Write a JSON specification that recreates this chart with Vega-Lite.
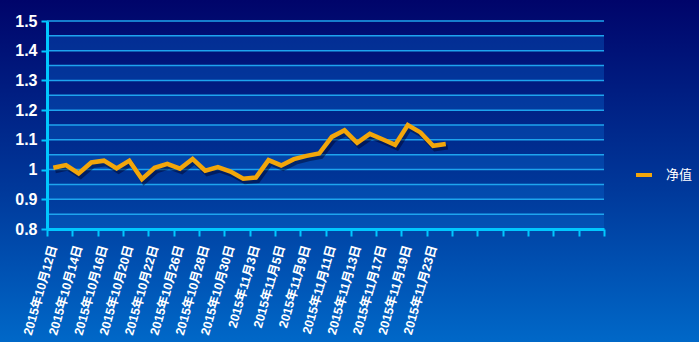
{
  "$schema": "https://vega.github.io/schema/vega-lite/v6.json",
  "autosize": {"type": "none"},
  "padding": {"left": 47, "top": 21, "right": 95, "bottom": 113},
  "width": 557,
  "height": 208,
  "background": "#003a98",
  "config": {
    "view": {"stroke": null},
    "axisY": {
      "format": "~g",
      "grid": false,
      "title": null,
      "labelOverlap": false,
      "domainColor": "#00c8ff",
      "domainWidth": 3,
      "tickColor": "#00c8ff",
      "tickWidth": 2,
      "tickSize": 6,
      "labelPadding": 4,
      "labelColor": "#ffffff",
      "labelFont": "Liberation Sans",
      "labelFontWeight": "bold",
      "labelFontSize": 16
    }
  },
  "datasets": {
    "nav": [
      {"date": "2015年10月12日", "value": 1.006},
      {"date": "2015年10月13日", "value": 1.015},
      {"date": "2015年10月14日", "value": 0.987},
      {"date": "2015年10月15日", "value": 1.024},
      {"date": "2015年10月16日", "value": 1.030},
      {"date": "2015年10月19日", "value": 1.004},
      {"date": "2015年10月20日", "value": 1.030},
      {"date": "2015年10月21日", "value": 0.968},
      {"date": "2015年10月22日", "value": 1.006},
      {"date": "2015年10月23日", "value": 1.019},
      {"date": "2015年10月26日", "value": 1.003},
      {"date": "2015年10月27日", "value": 1.036},
      {"date": "2015年10月28日", "value": 0.996},
      {"date": "2015年10月29日", "value": 1.008},
      {"date": "2015年10月30日", "value": 0.993},
      {"date": "2015年11月2日", "value": 0.969},
      {"date": "2015年11月3日", "value": 0.973},
      {"date": "2015年11月4日", "value": 1.032},
      {"date": "2015年11月5日", "value": 1.014},
      {"date": "2015年11月6日", "value": 1.035},
      {"date": "2015年11月9日", "value": 1.046},
      {"date": "2015年11月10日", "value": 1.054},
      {"date": "2015年11月11日", "value": 1.110},
      {"date": "2015年11月12日", "value": 1.132},
      {"date": "2015年11月13日", "value": 1.090},
      {"date": "2015年11月16日", "value": 1.120},
      {"date": "2015年11月17日", "value": 1.102},
      {"date": "2015年11月18日", "value": 1.083},
      {"date": "2015年11月19日", "value": 1.150},
      {"date": "2015年11月20日", "value": 1.125},
      {"date": "2015年11月23日", "value": 1.080},
      {"date": "2015年11月24日", "value": 1.086}
    ],
    "bands": [
      {"lo": 0.80, "hi": 0.85},
      {"lo": 0.90, "hi": 0.95},
      {"lo": 1.00, "hi": 1.05},
      {"lo": 1.10, "hi": 1.15},
      {"lo": 1.20, "hi": 1.25},
      {"lo": 1.30, "hi": 1.35},
      {"lo": 1.40, "hi": 1.45}
    ],
    "grid": [
      {"v": 0.80}, {"v": 0.85}, {"v": 0.90}, {"v": 0.95}, {"v": 1.00},
      {"v": 1.05}, {"v": 1.10}, {"v": 1.15}, {"v": 1.20}, {"v": 1.25},
      {"v": 1.30}, {"v": 1.35}, {"v": 1.40}, {"v": 1.45}, {"v": 1.50}
    ]
  },
  "resolve": {"scale": {"x": "independent"}, "axis": {"x": "independent"}},
  "layer": [
    {
      "data": {"values": [{}]},
      "mark": {
        "type": "rect",
        "strokeWidth": 300,
        "fill": {"gradient": "linear", "x1": 0, "y1": -0.101, "x2": 0, "y2": 1.543,
          "stops": [{"offset": 0, "color": "#00046a"}, {"offset": 0.55, "color": "#00389a"}, {"offset": 1, "color": "#0068c8"}]},
        "stroke": {"gradient": "linear", "x1": 0, "y1": -0.101, "x2": 0, "y2": 1.543,
          "stops": [{"offset": 0, "color": "#00046a"}, {"offset": 0.55, "color": "#00389a"}, {"offset": 1, "color": "#0068c8"}]}
      },
      "encoding": {}
    },
    {
      "data": {"name": "bands"},
      "mark": {"type": "rect", "fill": "#0a6ad0", "opacity": 0.35},
      "encoding": {
        "y": {"field": "lo", "type": "quantitative",
          "scale": {"domain": [0.8, 1.5], "nice": false, "zero": false},
          "axis": {"values": [0.8, 0.9, 1.0, 1.1, 1.2, 1.3, 1.4, 1.5], "zindex": 1, "labelOverlap": false, "title": null, "grid": false}
        },
        "y2": {"field": "hi"}
      }
    },
    {
      "data": {"name": "grid"},
      "mark": {"type": "rule", "color": "#1ea4ee", "strokeWidth": 1.5},
      "encoding": {
        "y": {"field": "v", "type": "quantitative",
          "scale": {"domain": [0.8, 1.5], "nice": false, "zero": false},
          "axis": {"values": [0.8, 0.9, 1.0, 1.1, 1.2, 1.3, 1.4, 1.5], "zindex": 1, "labelOverlap": false, "title": null, "grid": false}}
      }
    },
    {
      "data": {"values": [{}]},
      "mark": {"type": "point", "opacity": 0},
      "encoding": {
        "x": {"datum": 0, "type": "quantitative",
          "scale": {"domain": [0, 44], "nice": false, "zero": false},
          "axis": {
            "orient": "bottom",
            "values": [0, 2, 4, 6, 8, 10, 12, 14, 16, 18, 20, 22, 24, 26, 28, 30, 32, 34, 36, 38, 40, 42, 44],
            "labels": false,
            "grid": false,
            "title": null,
            "zindex": 1,
            "domainColor": "#00c8ff",
            "domainWidth": 3,
            "tickColor": "#00c8ff",
            "tickWidth": 2,
            "tickSize": 7
          }
        }
      }
    },
    {
      "data": {"name": "nav"},
      "layer": [
        {
          "mark": {"type": "line", "stroke": "#000022", "opacity": 0.45, "strokeWidth": 5, "xOffset": 2, "yOffset": 3},
          "encoding": {
            "x": {"field": "date", "type": "ordinal", "sort": null,
              "scale": {"type": "band", "paddingInner": 0, "paddingOuter": 0, "range": [0, {"expr": "width*32/44"}]}},
            "y": {"field": "value", "type": "quantitative",
              "scale": {"domain": [0.8, 1.5], "nice": false, "zero": false},
              "axis": {"values": [0.8, 0.9, 1.0, 1.1, 1.2, 1.3, 1.4, 1.5], "zindex": 1, "labelOverlap": false, "title": null, "grid": false}}
          }
        },
        {
          "mark": {"type": "line", "strokeWidth": 4.5},
          "encoding": {
            "x": {"field": "date", "type": "ordinal", "sort": null,
              "scale": {"type": "band", "paddingInner": 0, "paddingOuter": 0, "range": [0, {"expr": "width*32/44"}]},
              "axis": {
                "orient": "bottom",
                "values": ["2015年10月12日", "2015年10月14日", "2015年10月16日", "2015年10月20日", "2015年10月22日", "2015年10月26日", "2015年10月28日", "2015年10月30日", "2015年11月3日", "2015年11月5日", "2015年11月9日", "2015年11月11日", "2015年11月13日", "2015年11月17日", "2015年11月19日", "2015年11月23日"],
                "title": null,
                "zindex": 1,
                "domain": false,
                "ticks": false,
                "tickSize": 0,
                "grid": false,
                "labelAngle": -74,
                "labelAlign": "right",
                "labelBaseline": "middle",
                "labelPadding": 16,
                "labelOverlap": false,
                "labelColor": "#ffffff",
                "labelFont": "Liberation Sans, Noto Sans CJK SC",
                "labelFontWeight": "bold",
                "labelFontSize": 12.5
              }
            },
            "y": {"field": "value", "type": "quantitative",
              "scale": {"domain": [0.8, 1.5], "nice": false, "zero": false},
              "axis": {"values": [0.8, 0.9, 1.0, 1.1, 1.2, 1.3, 1.4, 1.5], "zindex": 1, "labelOverlap": false, "title": null, "grid": false}},
            "color": {"datum": "净值", "type": "nominal",
              "scale": {"range": ["#f2a60a"]},
              "legend": {
                "orient": "none",
                "legendX": 587,
                "legendY": 144,
                "title": null,
                "padding": 0,
                "symbolType": "stroke",
                "symbolSize": 256,
                "symbolStrokeWidth": 4,
                "labelOffset": 12,
                "labelColor": "#ffffff",
                "labelFont": "Noto Sans CJK SC",
                "labelFontSize": 13
              }
            }
          }
        }
      ]
    }
  ]
}
